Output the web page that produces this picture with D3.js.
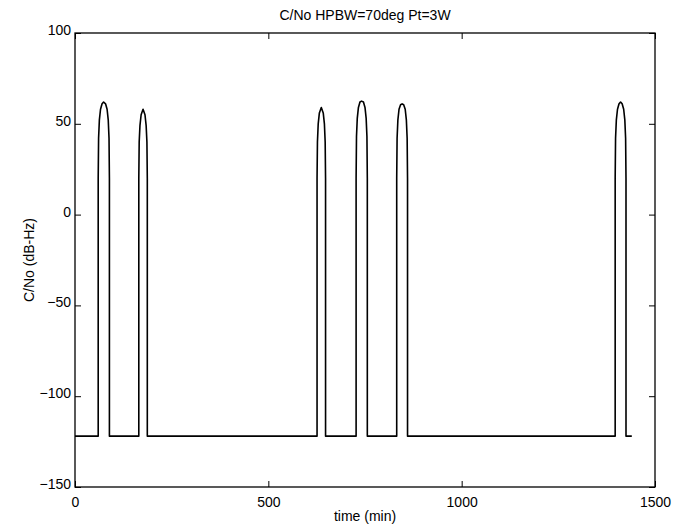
<!DOCTYPE html>
<html>
<head>
<meta charset="utf-8">
<script src="https://cdn.jsdelivr.net/npm/d3@7"></script>
<style>
  body { margin: 0; background: #fff; }
  text { font-family: "Liberation Sans", Arial, sans-serif; fill: #000; }
</style>
</head>
<body>
<div id="container"></div>
<script>
/* DATA */
const title = "C/No HPBW=70deg Pt=3W"
const xLabel = "time (min)"
const yLabel = "C/No (dB-Hz)"
const xTicks = [0, 500, 1000, 1500]
const yTicks = [-150, -100, -50, 0, 50, 100]

// time (min) and C/No (dB-Hz)
const time = [
  0, 60,
  60, 61, 63, 66, 70, 74, 79, 83, 86, 88, 89,
  89, 165,
  165, 166, 168, 171, 176, 181, 184, 186, 187,
  187, 626,
  626, 627, 629, 632, 637, 642, 645, 647, 648,
  648, 727,
  727, 728, 730, 733, 737, 741, 746, 750, 753, 755, 756,
  756, 832,
  832, 833, 835, 838, 842, 846, 850, 854, 857, 859, 860,
  860, 1397,
  1397, 1398, 1400, 1403, 1407, 1411, 1415, 1419, 1422, 1424, 1425,
  1425, 1440
]
const cno = [
  -122, -122,
  20, 42, 52, 58, 61, 62, 61, 58, 52, 42, 20,
  -122, -122,
  20, 40, 49, 55, 58, 55, 49, 40, 20,
  -122, -122,
  20, 40, 50, 56, 59, 56, 50, 40, 20,
  -122, -122,
  20, 43, 53, 59, 62, 62.5, 62, 59, 53, 43, 20,
  -122, -122,
  20, 42, 52, 58, 60.5, 61, 60.5, 58, 52, 42, 20,
  -122, -122,
  20, 42, 52, 58, 61, 62, 61, 58, 52, 42, 20,
  -122, -122
]

/* LAYOUT */
const width = 684,
  height = 527,
  margin = { top: 33, bottom: 40, left: 75, right: 29 }

const svg = d3.select('#container')
  .append('svg')
  .attr('width', width)
  .attr('height', height)

const xScale = d3.scaleLinear()
  .domain([0, 1500])
  .range([margin.left, width - margin.right])

const yScale = d3.scaleLinear()
  .domain([-150, 100])
  .range([height - margin.bottom, margin.top])

const x0 = margin.left, x1 = width - margin.right
const y0 = height - margin.bottom, y1 = margin.top
const fmt = d => d3.format('d')(d).replace('-', '\u2212')

// + AXES (matlab style, ticks pointing inwards)
svg.append('g')
  .attr('transform', `translate(0, ${y0})`)
  .call(d3.axisBottom(xScale).tickValues(xTicks).tickSize(-6).tickPadding(10).tickFormat(fmt))
  .call(g => g.select('.domain').remove())

svg.append('g')
  .attr('transform', `translate(0, ${y1})`)
  .call(d3.axisTop(xScale).tickValues(xTicks).tickSize(-6).tickFormat(''))
  .call(g => g.select('.domain').remove())

svg.append('g')
  .attr('class', 'yleft')
  .attr('transform', `translate(${x0}, 0)`)
  .call(d3.axisLeft(yScale).tickValues(yTicks).tickSize(-6).tickPadding(4).tickFormat(fmt))
  .call(g => g.select('.domain').remove())

svg.append('g')
  .attr('transform', `translate(${x1}, 0)`)
  .call(d3.axisRight(yScale).tickValues(yTicks).tickSize(-6).tickFormat(''))
  .call(g => g.select('.domain').remove())

svg.selectAll('.tick line').attr('stroke', '#000').attr('stroke-width', 1)
svg.selectAll('.tick text')
  .style('font-size', '14px')
  .style('font-family', '"Liberation Sans", Arial, sans-serif')

// nudge labels the way matlab places them
svg.select('.yleft').selectAll('.tick text').attr('dy', '0.1em')

// frame
svg.append('rect')
  .attr('x', x0).attr('y', y1)
  .attr('width', x1 - x0).attr('height', y0 - y1)
  .attr('fill', 'none').attr('stroke', '#000').attr('stroke-width', 1.3)

// + LINE
const pts = time.map((t, i) => [t, cno[i]])
const line = d3.line()
  .x(d => xScale(d[0]))
  .y(d => yScale(d[1]))

svg.append('path')
  .datum(pts)
  .attr('fill', 'none')
  .attr('stroke', '#000')
  .attr('stroke-width', 1.6)
  .attr('stroke-linejoin', 'round')
  .attr('d', line)

// + LABELS
svg.append('text')
  .attr('x', (x0 + x1) / 2).attr('y', 20)
  .attr('text-anchor', 'middle')
  .style('font-size', '14px')
  .text(title)

svg.append('text')
  .attr('x', (x0 + x1) / 2).attr('y', 521)
  .attr('text-anchor', 'middle')
  .style('font-size', '14px')
  .text(xLabel)

svg.append('text')
  .attr('transform', `translate(34, ${(y0 + y1) / 2}) rotate(-90)`)
  .attr('text-anchor', 'middle')
  .style('font-size', '14px')
  .text(yLabel)
</script>
</body>
</html>
